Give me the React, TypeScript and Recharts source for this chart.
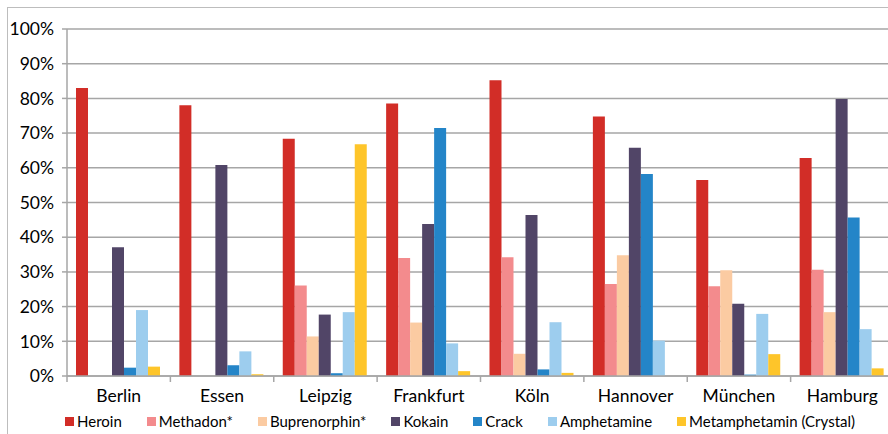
import { BarChart, Bar, XAxis, YAxis, CartesianGrid } from 'recharts';

const CITIES = ['Berlin', 'Essen', 'Leipzig', 'Frankfurt', 'Köln', 'Hannover', 'München', 'Hamburg'];

const HEROIN = [83.0, 78.0, 68.4, 78.5, 85.2, 74.8, 56.5, 62.8];
const METHADON = [0, 0, 26.1, 34.0, 34.2, 26.5, 25.9, 30.6];
const BUPRENORPHIN = [0, 0, 11.4, 15.4, 6.4, 34.8, 30.5, 18.4];
const KOKAIN = [37.1, 60.8, 17.7, 43.8, 46.4, 65.8, 20.8, 79.8];
const CRACK = [2.4, 3.1, 0.8, 71.5, 1.9, 58.2, 0.4, 45.7];
const AMPHETAMINE = [19.0, 7.1, 18.4, 9.4, 15.5, 10.2, 17.9, 13.5];
const METAMPHETAMIN = [2.7, 0.5, 66.8, 1.4, 0.9, 0, 6.3, 2.2];

const Y_TICKS = [0, 10, 20, 30, 40, 50, 60, 70, 80, 90, 100];

const SERIES = [
    { key: 'heroin', label: 'Heroin', color: '#d22d27', values: HEROIN },
    { key: 'methadon', label: 'Methadon*', color: '#f38b8d', values: METHADON },
    { key: 'buprenorphin', label: 'Buprenorphin*', color: '#fbcba2', values: BUPRENORPHIN },
    { key: 'kokain', label: 'Kokain', color: '#514567', values: KOKAIN },
    { key: 'crack', label: 'Crack', color: '#2485c8', values: CRACK },
    { key: 'amphetamine', label: 'Amphetamine', color: '#9dcdee', values: AMPHETAMINE },
    { key: 'metamphetamin', label: 'Metamphetamin (Crystal)', color: '#fec52a', values: METAMPHETAMIN },
];

const data = CITIES.map((city, i) => {
    const row: Record<string, string | number> = { city };
    SERIES.forEach(s => { row[s.key] = s.values[i]; });
    return row;
});

const FONT = 'Lato, "Open Sans", sans-serif';
const GRID = '#a6a6a6';
const CHART_W = 900;
const PLOT_LEFT = 67;
const PLOT_RIGHT = 6;
const BAND = (CHART_W - PLOT_LEFT - PLOT_RIGHT) / CITIES.length;

// category label centred in its band, with a tick mark on the band's left edge
function CityTick(props: any) {
    const { x, y, payload } = props;
    const edge = x - BAND / 2;
    return (
        <g>
            <line x1={edge} x2={edge} y1={376} y2={382} stroke={GRID} strokeWidth={1.5} />
            <text x={x} y={402} textAnchor="middle" fontSize={17.5} fontFamily={FONT} fill="#000">
                {payload.value}
            </text>
        </g>
    );
}

export default function App() {
    return (
        <div style={{
            position: 'absolute',
            left: 0,
            top: 0,
            width: 888,
            height: 434,
            overflow: 'hidden',
            background: '#fff',
        }}>
            {/* frame */}
            <div style={{
                position: 'absolute',
                left: 7,
                top: 7,
                width: 900,
                height: 440,
                border: '1px solid #bdbdbd',
            }} />

            <div style={{ position: 'absolute', left: 0, top: 0 }}>
                <BarChart
                    width={CHART_W}
                    height={434}
                    data={data}
                    margin={{ top: 29, right: PLOT_RIGHT, left: 0, bottom: 0 }}
                    barCategoryGap={9}
                    barGap={0}
                >
                    <CartesianGrid vertical={false} stroke={GRID} strokeWidth={1.5} />
                    <XAxis
                        dataKey="city"
                        height={58}
                        tick={<CityTick />}
                        tickLine={false}
                        axisLine={{ stroke: GRID, strokeWidth: 1.5 }}
                        interval={0}
                    />
                    <YAxis
                        width={PLOT_LEFT}
                        domain={[0, 100]}
                        ticks={Y_TICKS}
                        tickFormatter={(v: number) => `${v}%`}
                        tick={{ fontSize: 17.5, fontFamily: FONT, fill: '#000' }}
                        tickSize={5}
                        tickMargin={8}
                        tickLine={{ stroke: GRID, strokeWidth: 1.5 }}
                        axisLine={{ stroke: GRID, strokeWidth: 1.5 }}
                        interval={0}
                    />
                    {SERIES.map(s => (
                        <Bar key={s.key} dataKey={s.key} name={s.label} fill={s.color} isAnimationActive={false} />
                    ))}
                </BarChart>
            </div>

            {/* legend */}
            <div style={{
                position: 'absolute',
                left: 65,
                top: 412,
                display: 'flex',
                alignItems: 'center',
                gap: '25px',
                fontFamily: FONT,
                fontSize: '15px',
                color: '#000',
                whiteSpace: 'nowrap',
            }}>
                {SERIES.map(s => (
                    <span key={s.key} style={{ display: 'flex', alignItems: 'center', gap: '3px' }}>
                        <span style={{ width: 9, height: 9, background: s.color, display: 'inline-block' }} />
                        {s.label}
                    </span>
                ))}
            </div>
        </div>
    );
}
